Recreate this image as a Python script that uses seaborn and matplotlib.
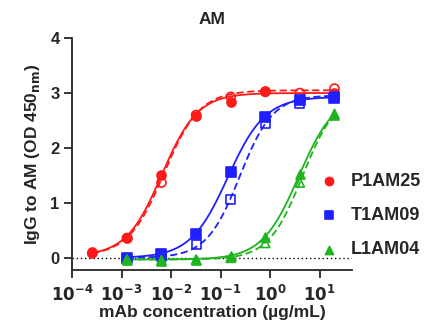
"""
Dose-response ELISA curves (IgG to AM) for three mAbs, filled = rep 1, open = rep 2.
Fit lines are 4PL curves using parameters estimated from the reference figure.
"""
import matplotlib
matplotlib.use("Agg")
import matplotlib.pyplot as plt
import numpy as np
import pandas as pd
import seaborn as sns

# 5-fold dilution series (ug/mL)
conc = [20, 4, 0.8, 0.16, 0.032, 0.0064, 0.00128, 0.000256]

# OD450 readings, same order as conc (None = not measured)
p1am25_a = [3.00, 2.89, 3.04, 2.84, 2.59, 1.50, 0.37, 0.10]
p1am25_b = [3.08, 3.00, 3.02, 2.93, 2.60, 1.37, 0.36, 0.08]
t1am09_a = [2.90, 2.87, 2.56, 1.57, 0.43, 0.07, -0.01, None]
t1am09_b = [2.93, 2.81, 2.45, 1.07, 0.24, 0.03, -0.01, None]
l1am04_a = [2.60, 1.53, 0.38, 0.03, -0.04, -0.05, -0.03, None]
l1am04_b = [2.62, 1.37, 0.27, 0.00, -0.03, -0.04, -0.03, None]

# 4PL parameters: bottom, top, EC50, hill
fit_params = {
    "P1AM25_a": (0.03, 3.00, 0.0065, 1.20),
    "P1AM25_b": (0.03, 3.05, 0.0072, 1.20),
    "T1AM09_a": (0.00, 2.93, 0.140, 1.15),
    "T1AM09_b": (0.00, 2.96, 0.243, 1.30),
    "L1AM04_a": (-0.03, 3.00, 3.8, 1.17),
    "L1AM04_b": (-0.03, 3.00, 4.5, 1.27),
}

names = ["P1AM25", "T1AM09", "L1AM04"]
colors = {"P1AM25": "#ff1a1a", "T1AM09": "#1f1fff", "L1AM04": "#1db41d"}
markers = {"P1AM25": "o", "T1AM09": "s", "L1AM04": "^"}
reps = {
    "P1AM25": (p1am25_a, p1am25_b),
    "T1AM09": (t1am09_a, t1am09_b),
    "L1AM04": (l1am04_a, l1am04_b),
}
xtick_vals = [1e-4, 1e-3, 1e-2, 1e-1, 1e0, 1e1]
xtick_labels = [r"$\mathbf{10^{-4}}$", r"$\mathbf{10^{-3}}$", r"$\mathbf{10^{-2}}$",
                r"$\mathbf{10^{-1}}$", r"$\mathbf{10^{0}}$", r"$\mathbf{10^{1}}$"]


def four_pl(x, bottom, top, ec50, hill):
    return bottom + (top - bottom) / (1.0 + (ec50 / x) ** hill)


sns.set_style("ticks")
plt.rcParams["font.family"] = ["Liberation Sans", "DejaVu Sans"]
plt.rcParams["font.weight"] = "bold"
plt.rcParams["axes.labelweight"] = "bold"
plt.rcParams["axes.titleweight"] = "bold"

fig = plt.figure(figsize=(4.24, 3.28), dpi=100)
ax = fig.add_axes([0.170, 0.177, 0.660, 0.707])

ax.axhline(0, color="black", linestyle=(0, (1, 2)), linewidth=1.0, zorder=1)

for name in names:
    col = colors[name]
    for rep, vals in zip(("a", "b"), reps[name]):
        df = pd.DataFrame({"conc": conc, "od": vals}).dropna()
        bottom, top, ec50, hill = fit_params[f"{name}_{rep}"]
        xs = np.logspace(np.log10(df["conc"].min()), np.log10(df["conc"].max()), 200)
        fit = pd.DataFrame({"conc": xs, "od": four_pl(xs, bottom, top, ec50, hill)})
        sns.lineplot(data=fit, x="conc", y="od", ax=ax, color=col, linewidth=1.3,
                     linestyle="-" if rep == "a" else (0, (4, 2)), zorder=2)
        sns.scatterplot(data=df, x="conc", y="od", ax=ax, marker=markers[name], s=42,
                        color=col if rep == "a" else "none",
                        edgecolor=col, linewidth=1.2, zorder=3,
                        label=name if rep == "a" else None)

ax.set_xscale("log")
ax.set_xlim(1e-4, 45)
ax.set_ylim(-0.22, 4)
ax.set_yticks([0, 1, 2, 3, 4])
ax.set_xticks(xtick_vals)
ax.set_xticklabels(xtick_labels)
ax.minorticks_off()

ax.tick_params(axis="both", labelsize=12, width=1.3, length=6)
ax.tick_params(axis="y", pad=3)
ax.tick_params(axis="x", pad=4)
for s in ("left", "bottom"):
    ax.spines[s].set_linewidth(1.3)
sns.despine(ax=ax)

ax.set_xlabel("mAb concentration (µg/mL)", fontsize=12.5, labelpad=1)
ax.set_ylabel(r"IgG to AM (OD 450$_{\mathbf{nm}}$)", fontsize=12.5, labelpad=6)
ax.set_title("AM", fontsize=12.5, pad=10)

ax.legend(loc="upper left", bbox_to_anchor=(322 / 424, 1 - 173 / 328),
          bbox_transform=fig.transFigure, frameon=False, fontsize=13,
          handlelength=0.8, handletextpad=0.8, labelspacing=0.95,
          borderpad=0, borderaxespad=0, markerscale=0.9)

fig.savefig("out.png", dpi=100)
